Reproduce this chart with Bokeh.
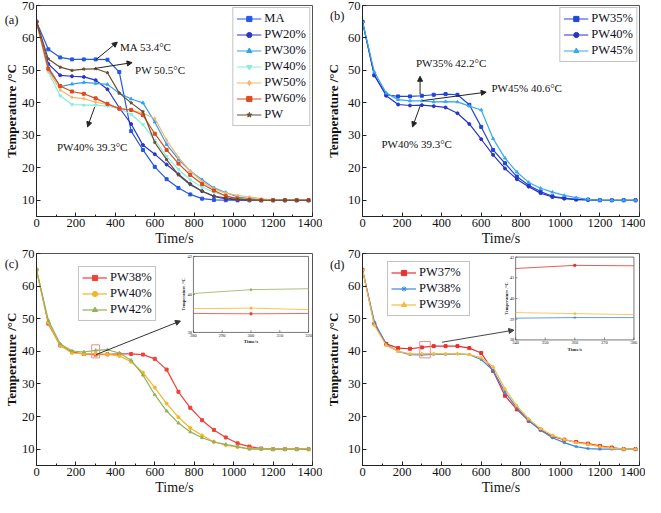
from bokeh.plotting import figure
from bokeh.models import Range1d, Arrow, NormalHead, Label, FixedTicker, LinearAxis
from bokeh.layouts import column, row
from bokeh.embed import file_html
from bokeh.resources import INLINE
from bokeh.core.properties import value

FONT = "Liberation Serif"

# ---------------- data ----------------
time_s = [0, 60, 120, 180, 240, 300, 360, 420, 480, 540, 600, 660,
          720, 780, 840, 900, 960, 1020, 1080, 1140, 1200, 1260, 1320, 1380]
x_ticks = [0, 200, 400, 600, 800, 1000, 1200, 1400]
x_minor = [100, 300, 500, 700, 900, 1100, 1300]
y_ticks = [10, 20, 30, 40, 50, 60, 70]

# panel (a)
a_names = ["MA", "PW20%", "PW30%", "PW40%", "PW50%", "PW60%", "PW"]
a_MA = [65, 56.5, 54.0, 53.4, 53.4, 53.4, 53.3, 49.5, 31.3, 25.5, 20.3, 16.5,
        13.8, 11.8, 10.5, 10.1, 10.0, 10.0, 10.0, 10.0, 10.0, 10.0, 10.0, 10.0]
a_PW20 = [65, 52.0, 48.5, 48.2, 48.0, 47.0, 44.2, 38.5, 33.5, 27.0, 24.2, 21.0,
          18.0, 15.0, 12.8, 11.2, 10.4, 10.1, 10.0, 10.0, 10.0, 10.0, 10.0, 10.0]
a_PW30 = [65, 51.0, 45.0, 45.8, 46.3, 46.0, 45.7, 43.0, 41.2, 40.0, 34.1, 27.2,
          22.6, 19.0, 16.3, 13.8, 12.4, 11.0, 10.5, 10.2, 10.0, 10.0, 10.0, 10.0]
a_PW40 = [65, 49.5, 42.2, 39.5, 39.3, 39.3, 39.0, 38.2, 36.5, 33.3, 28.5, 23.5,
          19.5, 16.3, 14.0, 12.5, 11.3, 10.6, 10.2, 10.0, 10.0, 10.0, 10.0, 10.0]
a_PW50 = [65, 50.0, 44.0, 41.7, 41.3, 40.2, 39.5, 38.5, 37.8, 36.8, 35.2, 28.5,
          23.2, 19.0, 15.8, 13.5, 12.2, 11.5, 11.0, 10.5, 10.0, 10.0, 10.0, 10.0]
a_PW60 = [65, 50.5, 45.2, 43.5, 42.8, 41.4, 39.7, 38.2, 37.8, 36.2, 30.5, 25.5,
          21.3, 17.8, 15.0, 13.0, 11.3, 10.5, 10.2, 10.0, 10.0, 10.0, 10.0, 10.0]
a_PW = [65, 53.5, 51.0, 50.0, 50.4, 50.5, 49.3, 43.0, 40.0, 37.3, 27.8, 22.5,
        17.8, 14.8, 12.8, 11.3, 10.7, 10.3, 10.1, 10.0, 10.0, 10.0, 10.0, 10.0]

# panel (b)
b_names = ["PW35%", "PW40%", "PW45%"]
b_PW35 = [65, 48.5, 42.5, 42.0, 42.0, 42.2, 42.5, 42.7, 42.5, 39.4, 32.6, 25.5,
          21.4, 17.3, 14.6, 12.7, 11.2, 10.7, 10.3, 10.2, 10.0, 10.0, 10.0, 10.0]
b_PW40 = [65, 48.5, 42.2, 39.5, 39.2, 39.3, 39.0, 38.6, 36.8, 33.5, 28.8, 24.0,
          19.8, 16.5, 14.2, 12.2, 11.0, 10.5, 10.2, 10.1, 10.0, 10.0, 10.0, 10.0]
b_PW45 = [65, 49.5, 43.0, 41.0, 40.6, 40.6, 40.3, 40.4, 40.3, 39.0, 37.8, 29.0,
          23.0, 18.7, 15.5, 13.7, 12.5, 11.5, 10.8, 10.3, 10.0, 10.0, 10.0, 10.0]

# panel (c)
c_names = ["PW38%", "PW40%", "PW42%"]
c_PW38 = [65, 48.5, 41.8, 39.8, 39.2, 39.0, 39.1, 39.2, 39.2, 39.0, 37.7, 34.4,
          27.6, 22.7, 18.9, 15.9, 13.6, 11.8, 10.8, 10.2, 10.0, 10.0, 10.0, 10.0]
c_PW40 = [65, 48.8, 41.8, 39.5, 39.2, 39.3, 39.1, 38.6, 36.8, 33.5, 28.9, 24.0,
          19.8, 16.5, 14.2, 12.3, 11.2, 10.6, 10.2, 10.1, 10.0, 10.0, 10.0, 10.0]
c_PW42 = [65, 49.5, 42.3, 40.1, 39.8, 40.3, 40.5, 39.5, 37.3, 32.7, 26.7, 21.7,
          18.0, 15.3, 13.5, 12.2, 11.5, 10.8, 10.0, 10.0, 10.0, 10.0, 10.0, 10.0]
# inset (c)
ci_time = [280, 300, 320]
ci_PW38 = [39.0, 38.98, 39.0]
ci_PW40 = [39.25, 39.28, 39.2]
ci_PW42 = [40.05, 40.25, 40.3]
ci_xticks = [280, 290, 300, 310, 320]
ci_yticks = [38, 40, 42]

# panel (d)
d_names = ["PW37%", "PW38%", "PW39%"]
d_PW37 = [65, 48.5, 42.3, 41.0, 40.8, 41.2, 41.6, 41.6, 41.6, 41.0, 39.5, 34.0,
          26.4, 22.2, 18.7, 16.0, 13.9, 12.9, 12.2, 11.7, 11.0, 10.5, 10.0, 10.0]
d_PW38 = [65, 49.0, 42.0, 40.0, 39.0, 38.9, 39.1, 39.1, 39.2, 39.0, 37.5, 34.2,
          27.5, 22.7, 18.8, 15.8, 13.5, 12.0, 10.8, 10.2, 10.0, 10.0, 10.0, 10.0]
d_PW39 = [65, 48.0, 41.8, 40.0, 39.2, 39.2, 39.3, 39.2, 39.3, 39.0, 38.0, 35.3,
          28.5, 23.3, 19.3, 16.3, 14.2, 13.0, 12.0, 11.5, 10.8, 10.3, 10.0, 10.0]
# inset (d)
di_time = [340, 360, 380]
di_PW37 = [41.45, 41.6, 41.58]
di_PW38 = [39.05, 39.08, 39.08]
di_PW39 = [39.32, 39.27, 39.22]
di_xticks = [340, 350, 360, 370, 380]
di_yticks = [38, 39, 40, 41, 42]

# ---------------- helpers ----------------
X0, X1, Y0, Y1 = 0, 1400, 5, 70


def make_fig(w, h, bl, br, bt, bb, tag, tag_y, title_standoff):
    p = figure(width=w, height=h, x_range=Range1d(X0, X1), y_range=Range1d(Y0, Y1),
               output_backend="svg", toolbar_location=None,
               min_border_left=bl, min_border_right=br,
               min_border_top=bt, min_border_bottom=bb)
    p.xgrid.visible = False
    p.ygrid.visible = False
    p.outline_line_color = "#555555"
    p.outline_line_width = 1
    p.xaxis.ticker = FixedTicker(ticks=x_ticks, minor_ticks=x_minor)
    p.yaxis.ticker = FixedTicker(ticks=y_ticks)
    for ax in (p.xaxis[0], p.yaxis[0]):
        ax.major_tick_in = 4
        ax.major_tick_out = 0
        ax.minor_tick_in = 2
        ax.minor_tick_out = 0
        ax.axis_line_color = "#222222"
        ax.major_tick_line_color = "#222222"
        ax.minor_tick_line_color = "#222222"
        ax.major_label_text_font = FONT
        ax.major_label_text_font_size = "12.5px"
        ax.major_label_text_color = "#111111"
        ax.axis_label_text_font = FONT
        ax.axis_label_text_color = "#111111"
    p.yaxis.major_label_standoff = 2
    p.xaxis.major_label_standoff = 2
    p.xaxis.axis_label_standoff = 1
    p.xaxis.axis_label = "Time/s"
    p.xaxis.axis_label_text_font_size = "14px"
    p.xaxis.axis_label_text_font_style = "normal"
    p.yaxis.axis_label = None
    # outer left axis: carries the panel tag and the y title
    outer = LinearAxis(ticker=FixedTicker(ticks=[tag_y]),
                       major_label_overrides={tag_y: tag},
                       axis_line_color=None, major_tick_line_color=None,
                       minor_tick_line_color=None,
                       major_tick_in=0, major_tick_out=0,
                       minor_tick_in=0, minor_tick_out=0,
                       major_label_standoff=0,
                       major_label_text_font=FONT, major_label_text_font_size="12.5px",
                       major_label_text_color="#111111",
                       axis_label="Temperature /\u00b0C", axis_label_standoff=title_standoff,
                       axis_label_text_font=FONT, axis_label_text_font_size="13px",
                       axis_label_text_font_style="bold", axis_label_text_color="#111111")
    p.add_layout(outer, "left")
    return p


def add_series(p, names, series, colors, markers):
    for name, vals, col, mk in zip(names, series, colors, markers):
        p.line(time_s, vals, line_color=col, line_width=1.2, legend_label=name)
        p.scatter(time_s, vals, marker=mk, size=3, line_color=col, fill_color=col,
                  legend_label=name)


def style_legend(p, label_w, loc):
    lg = p.legend[0]
    lg.location = loc
    lg.label_text_font = FONT
    lg.label_text_font_size = "12.5px"
    lg.label_text_color = "#111122"
    lg.label_height = 13
    lg.glyph_height = 13
    lg.glyph_width = 25
    lg.label_standoff = 3
    lg.label_width = label_w
    lg.padding = 3
    lg.spacing = 1
    lg.margin = 2
    lg.border_line_color = "#888888"
    lg.border_line_width = 1
    lg.background_fill_alpha = 1.0


def add_note(p, text, tx, ty, ax0, ay0, ax1, ay1, color="#222222"):
    if text:
        p.add_layout(Label(x=tx, y=ty, text=text, text_font=FONT, text_font_size="11px",
                           text_baseline="middle", text_align="left", text_color="#111111"))
    p.add_layout(Arrow(end=NormalHead(size=5, fill_color=color, line_color=color),
                       x_start=ax0, y_start=ay0, x_end=ax1, y_end=ay1,
                       line_color=color, line_width=1))


def add_inset(p, box, dom, xt, yt, ix, series, colors, markers, mark_x):
    bx0, bx1, by0, by1 = box
    ix0, ix1, iy0, iy1 = dom
    sx = (ix1 - ix0) / (bx1 - bx0)
    sy = (iy1 - iy0) / (by1 - by0)
    p.extra_x_ranges = {"ix": Range1d(ix0 - (bx0 - X0) * sx, ix0 + (X1 - bx0) * sx)}
    p.extra_y_ranges = {"iy": Range1d(iy0 - (by0 - Y0) * sy, iy0 + (Y1 - by0) * sy)}
    kw = dict(x_range_name="ix", y_range_name="iy")
    p.quad(left=[ix0], right=[ix1], bottom=[iy0], top=[iy1], fill_color="white",
           line_color="#555555", line_width=0.8, **kw)
    for vals, col, mk in zip(series, colors, markers):
        p.line(ix, vals, line_color=col, line_width=0.8, **kw)
        mv = [v for xx, v in zip(ix, vals) if xx == mark_x]
        p.scatter([mark_x] * len(mv), mv, marker=mk, size=2, line_color=col,
                  fill_color=col, **kw)
    tlen_y = (iy1 - iy0) * 0.03
    tlen_x = (ix1 - ix0) * 0.015
    p.segment(x0=xt, x1=xt, y0=[iy0] * len(xt), y1=[iy0 + tlen_y] * len(xt),
              line_color="#444444", line_width=0.6, **kw)
    p.segment(x0=[ix0] * len(yt), x1=[ix0 + tlen_x] * len(yt), y0=yt, y1=yt,
              line_color="#444444", line_width=0.6, **kw)
    p.text(x=xt, y=[iy0] * len(xt), text=[str(v) for v in xt], text_font=value(FONT),
           text_font_size=value("4.5px"), text_align="center", text_baseline="top",
           y_offset=1.5, text_color="#222222", **kw)
    p.text(x=[ix0] * len(yt), y=yt, text=[str(v) for v in yt], text_font=value(FONT),
           text_font_size=value("4.5px"), text_align="right", text_baseline="middle",
           x_offset=-1.5, text_color="#222222", **kw)
    p.text(x=[(ix0 + ix1) / 2], y=[iy0], text=["Time/s"], text_font=value(FONT),
           text_font_size=value("5px"), text_font_style="bold", text_align="center",
           text_baseline="top", y_offset=7, text_color="#222222", **kw)
    p.text(x=[ix0], y=[(iy0 + iy1) / 2], text=["Temperature /\u00b0C"], text_font=value(FONT),
           text_font_size=value("4.5px"), text_font_style="bold", text_align="center",
           text_baseline="bottom", angle=1.5708, x_offset=-7, text_color="#222222", **kw)


# ---------------- panel (a) ----------------
pa = make_fig(322, 248, 29, 10, 5, 28, "(a)", 65.6, -17)
add_series(pa, a_names, [a_MA, a_PW20, a_PW30, a_PW40, a_PW50, a_PW60, a_PW],
           ["#2458e6", "#2a36c8", "#2fa2ee", "#86eedd", "#f8b468", "#dd4a1e", "#6e4c2c"],
           ["square", "circle", "triangle", "inverted_triangle", "diamond", "square", "star"])
style_legend(pa, 36, "top_right")
add_note(pa, "MA 53.4\u00b0C", 424, 57.1, 303, 53.4, 410, 58.7)
add_note(pa, "PW 50.5\u00b0C", 500, 50.2, 295, 50.6, 485, 52.4)
add_note(pa, "PW40% 39.3\u00b0C", 104, 26.5, 295, 38.7, 259, 32.6)

# ---------------- panel (b) ----------------
pb = make_fig(323, 248, 31, 6, 5, 28, "(b)", 66.9, -14)
add_series(pb, b_names, [b_PW35, b_PW40, b_PW45],
           ["#2146d8", "#2a34c4", "#35aaf0"], ["square", "circle", "triangle"])
style_legend(pb, 34, "top_right")
add_note(pb, "PW35% 42.2\u00b0C", 270, 52.2, 291, 42.7, 291, 48.2)
add_note(pb, "PW45% 40.6\u00b0C", 652, 44.5, 303, 40.7, 625, 43.3)
add_note(pb, "PW40% 39.3\u00b0C", 96, 27.3, 291, 39.0, 253, 32.6)

# ---------------- panel (c) ----------------
pc = make_fig(322, 249, 29, 10, 5, 28, "(c)", 66.7, -17)
c_cols = ["#f0403a", "#f2b62a", "#93b25a"]
c_mk = ["square", "circle", "triangle"]
add_series(pc, c_names, [c_PW38, c_PW40, c_PW42], c_cols, c_mk)
style_legend(pc, 40, (42, 144))
pc.rect(x=[(ci_time[0] + ci_time[-1]) / 2], y=[(ci_yticks[0] + ci_yticks[-1]) / 2],
        width=[ci_time[-1] - ci_time[0]], height=[ci_yticks[-1] - ci_yticks[0]],
        fill_alpha=0, line_color="#f08a8a", line_width=1)
add_note(pc, "", 0, 0, 302, 39.0, 730, 49.3, color="#333333")
add_inset(pc, (796, 1380, 45.8, 69.1), (280, 320, 38, 42), ci_xticks, ci_yticks, ci_time,
          [ci_PW38, ci_PW40, ci_PW42], c_cols, c_mk, 300)

# ---------------- panel (d) ----------------
pd_ = make_fig(323, 249, 31, 6, 5, 28, "(d)", 66.6, -14)
d_cols = ["#e8302c", "#3a86e2", "#f7ba3a"]
d_mk = ["square", "asterisk", "triangle"]
add_series(pd_, d_names, [d_PW37, d_PW38, d_PW39], d_cols, d_mk)
style_legend(pd_, 47, (25, 149))
pd_.rect(x=[316], y=[40.5], width=[53], height=[5], fill_alpha=0,
         line_color="#f08a8a", line_width=1)
add_note(pd_, "", 0, 0, 402, 42.8, 765, 46.5, color="#444444")
add_inset(pd_, (774, 1372, 43.5, 68.9), (340, 380, 38, 42), di_xticks, di_yticks, di_time,
          [di_PW37, di_PW38, di_PW39], d_cols, d_mk, 360)

layout = column(row(pa, pb), row(pc, pd_))
open("out.html", "w").write(file_html(layout, INLINE))
